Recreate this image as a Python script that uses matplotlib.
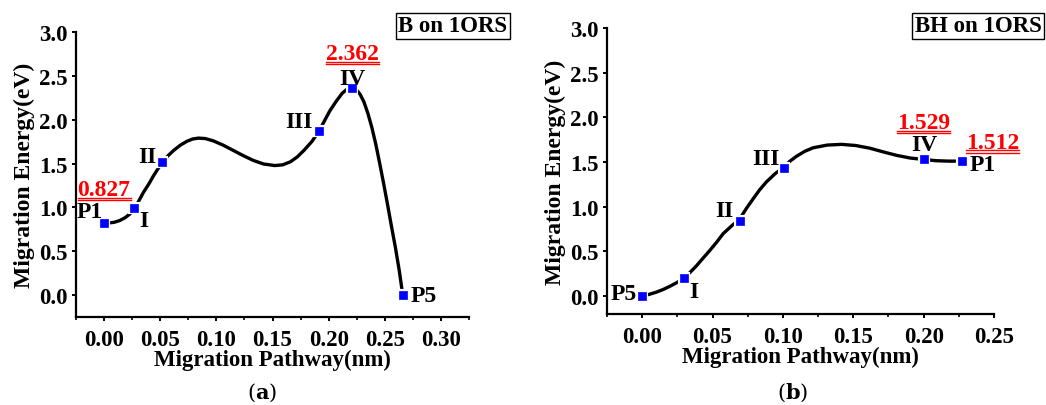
import numpy as np
import matplotlib
matplotlib.use('Agg')
import matplotlib.pyplot as plt
from matplotlib.ticker import MultipleLocator, FormatStrFormatter

plt.rcParams['font.family'] = ['Liberation Serif', 'DejaVu Serif']
plt.rcParams['font.weight'] = 'bold'
plt.rcParams['mathtext.fontset'] = 'dejavuserif'

# (a) B on 1ORS -- stationary points
a_x = [0.0, 0.027, 0.052, 0.1916, 0.221, 0.266]
a_y = [0.827, 0.99, 1.515, 1.873, 2.362, 0.0]
a_names = ['P1', 'I', 'II', 'III', 'IV', 'P5']
# curve
a_cx = [0.0, 0.004, 0.009, 0.014, 0.019, 0.023, 0.027, 0.031, 0.035, 0.040, 0.044, 0.048,
        0.052, 0.057, 0.062, 0.068, 0.074, 0.079, 0.084, 0.090, 0.097, 0.106, 0.115, 0.124,
        0.133, 0.142, 0.152, 0.159, 0.166, 0.172, 0.178, 0.185, 0.1916, 0.196, 0.201, 0.207,
        0.212, 0.2165, 0.221, 0.2245, 0.228, 0.2315, 0.235, 0.2385, 0.242, 0.2455, 0.249,
        0.2525, 0.256, 0.2595, 0.263, 0.266]
a_cy = [0.827, 0.822, 0.830, 0.850, 0.885, 0.925, 0.99, 1.075, 1.17, 1.27, 1.36, 1.44,
        1.515, 1.59, 1.65, 1.71, 1.755, 1.78, 1.79, 1.785, 1.76, 1.71, 1.65, 1.59,
        1.535, 1.495, 1.477, 1.485, 1.52, 1.575, 1.65, 1.75, 1.873, 1.98, 2.10, 2.215,
        2.30, 2.35, 2.362, 2.345, 2.29, 2.20, 2.07, 1.91, 1.72, 1.50, 1.27,
        1.03, 0.78, 0.54, 0.27, 0.0]

# (b) BH on 1ORS
b_x = [0.0, 0.0294, 0.0694, 0.1007, 0.2002, 0.2275]
b_y = [0.0, 0.20, 0.844, 1.433, 1.529, 1.512]
b_names = ['P5', 'I', 'II', 'III', 'IV', 'P1']
b_cx = [0.0, 0.005, 0.0102, 0.015, 0.0197, 0.0245, 0.0294, 0.034, 0.0386, 0.043, 0.048, 0.053,
        0.0576, 0.0635, 0.0694, 0.074, 0.0789, 0.0835, 0.0884, 0.0945, 0.1007, 0.105, 0.1097,
        0.1155, 0.1215, 0.1315, 0.1417, 0.1518, 0.1618, 0.171, 0.1808, 0.1905, 0.2002, 0.209,
        0.2187, 0.2275]
b_cy = [0.0, 0.02, 0.045, 0.075, 0.11, 0.15, 0.20, 0.265, 0.34, 0.42, 0.51, 0.605,
        0.70, 0.785, 0.865, 0.98, 1.09, 1.19, 1.28, 1.37, 1.445, 1.51, 1.565,
        1.62, 1.66, 1.69, 1.698, 1.685, 1.655, 1.615, 1.575, 1.545, 1.529, 1.515,
        1.51, 1.512]

fig = plt.figure(figsize=(10.46, 4.06), dpi=100)
W, H = 1046.0, 406.0
axA = fig.add_axes([76 / W, 1 - 318 / H, (469 - 76) / W, (318 - 33) / H])
axB = fig.add_axes([607 / W, 1 - 315 / H, (994 - 607) / W, (315 - 29) / H])


def style(ax, xlim, ylim):
    ax.set_xlim(*xlim)
    ax.set_ylim(*ylim)
    ax.spines['top'].set_visible(False)
    ax.spines['right'].set_visible(False)
    for s in ['left', 'bottom']:
        ax.spines[s].set_linewidth(1.6)
    ax.xaxis.set_major_locator(MultipleLocator(0.05))
    ax.xaxis.set_minor_locator(MultipleLocator(0.025))
    ax.yaxis.set_major_locator(MultipleLocator(0.5))
    ax.tick_params(direction='out', length=3, width=1.4, labelsize=16.5, pad=3)
    ax.tick_params(axis='x', pad=6)
    ax.tick_params(which='minor', direction='out', length=2, width=1.2)
    ax.xaxis.set_major_formatter(FormatStrFormatter('%.2f'))
    ax.yaxis.set_major_formatter(FormatStrFormatter('%.1f'))
    ax.set_xlabel('Migration Pathway(nm)', fontsize=16.5, fontweight='bold', labelpad=-1)
    ax.set_ylabel('Migration Energy(eV)', fontsize=17, fontweight='bold', labelpad=3)


def draw(ax, cx, cy, px, py):
    ax.plot(cx, cy, color='black', lw=2.4, solid_capstyle='round', zorder=2)
    ax.plot(px, py, 's', color='#0000ff', ms=5.5, mec='white', mew=3.0, ls='none', zorder=3)
    ax.plot(px, py, 's', color='#0000ff', ms=5.5, mec='#0000ff', mew=0.5, ls='none', zorder=4)


style(axA, (-0.025, 0.325), (-0.25, 3.0))
style(axB, (-0.025, 0.25), (-0.2, 3.0))
draw(axA, a_cx, a_cy, a_x, a_y)
draw(axB, b_cx, b_cy, b_x, b_y)

lab_kw = dict(fontsize=17, fontweight='bold', color='black', va='baseline')
# label baseline positions (data coords) and horizontal alignment
a_lab = [(-0.001, 0.89, 'right'), (0.031, 0.79, 'left'),
         (0.047, 1.52, 'right'), (0.186, 1.92, 'right'),
         (0.2215, 2.41, 'center'), (0.273, -0.07, 'left')]
for n, (x, y, ha) in zip(a_names, a_lab):
    axA.text(x, y, n, ha=ha, **lab_kw)
b_lab = [(-0.004, -0.03, 'right'), (0.0334, -0.01, 'left'),
         (0.065, 0.9, 'right'), (0.0974, 1.48, 'right'),
         (0.2004, 1.63, 'center'), (0.2329, 1.41, 'left')]
for n, (x, y, ha) in zip(b_names, b_lab):
    axB.text(x, y, n, ha=ha, **lab_kw)

red_kw = dict(fontsize=17, fontweight='bold', color='#ff0000')
axA.text(0.0, 1.14, '0.827', ha='center', va='baseline', **red_kw)
axA.text(0.2215, 2.69, '2.362', ha='center', va='baseline', **red_kw)
axB.text(0.2, 1.88, '1.529', ha='center', va='baseline', **red_kw)
axB.text(0.2488, 1.66, '1.512', ha='center', va='baseline', **red_kw)

# double underline under the red values
fig.canvas.draw()
renderer = fig.canvas.get_renderer()
for ax in (axA, axB):
    for t in ax.texts:
        if t.get_color() == '#ff0000':
            bb = t.get_window_extent(renderer)
            xb, yb = ax.transData.transform(t.get_position())
            for off in (2.5, 5.0):
                fig.lines.append(plt.Line2D([bb.x0 / W, bb.x1 / W], [(yb - off) / H, (yb - off) / H],
                                            transform=fig.transFigure, color='#ff0000', lw=1.0))

box = dict(boxstyle='square,pad=0.12', fc='white', ec='black', lw=1.0)
fig.text(453 / W, 1 - 27 / H, 'B on 1ORS', ha='center', va='center', fontsize=16.5,
         fontweight='bold', bbox=box)
fig.text(978 / W, 1 - 27 / H, 'BH on 1ORS', ha='center', va='center', fontsize=16.5,
         fontweight='bold', bbox=box)

fig.text(262 / W, 1 - 393 / H, r'($\mathbf{a}$)', ha='center', va='center', fontsize=15,
         fontweight='normal', family='DejaVu Serif')
fig.text(793 / W, 1 - 393 / H, r'($\mathbf{b}$)', ha='center', va='center', fontsize=15,
         fontweight='normal', family='DejaVu Serif')

fig.savefig('out.png', dpi=100)
